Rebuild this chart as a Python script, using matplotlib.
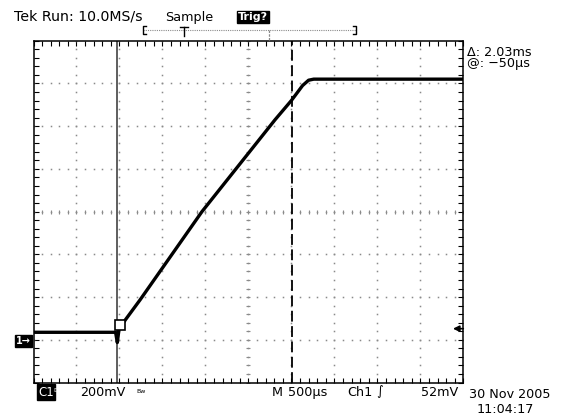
import matplotlib

matplotlib.use("Agg")
import matplotlib.pyplot as plt
import numpy as np

W, H, DPI = 564, 415, 100

# screen: 10 div x 500 us, 8 div x 200 mV, ground one div above bottom edge
T_LIM = (0.0, 5.0)    # ms
V_LIM = (-0.2, 1.4)   # V
T_DIV = 0.5
V_DIV = 0.2

# captured trace (ms, V)
trace_t = [0.0, 0.955, 0.975, 0.995, 1.07, 1.24, 1.96, 2.81, 3.0, 3.13, 3.2, 3.26, 5.0]
trace_v = [0.035, 0.035, -0.013, 0.05, 0.094, 0.187, 0.60, 1.03, 1.12, 1.19, 1.215, 1.22, 1.22]

cursor_t = [0.975, 3.005]
trig_level = 0.052

GRID = "#8a8a8a"
INK = "black"

fig = plt.figure(figsize=(W / DPI, H / DPI), dpi=DPI)
fig.patch.set_facecolor("white")


def fx(px):
    return px / W


def fy(py):
    return 1 - py / H


ax = fig.add_axes([fx(33.5), fy(382.5), (463.3 - 33.5) / W, (382.5 - 40.7) / H])
ax.set_xlim(*T_LIM)
ax.set_ylim(*V_LIM)
ax.set_xticks(np.arange(T_LIM[0], T_LIM[1] + 1e-9, T_DIV))
ax.set_yticks(np.arange(V_LIM[0], V_LIM[1] + 1e-9, V_DIV))
ax.set_xticks(np.arange(T_LIM[0], T_LIM[1] + 1e-9, T_DIV / 5), minor=True)
ax.set_yticks(np.arange(V_LIM[0], V_LIM[1] + 1e-9, V_DIV / 5), minor=True)
ax.tick_params(which="both", direction="in", length=3.5, width=0.8, color=INK,
               top=True, right=True, labelbottom=False, labelleft=False)
for s in ax.spines.values():
    s.set_linewidth(1.1)

# dotted graticule
t_mid = (T_LIM[0] + T_LIM[1]) / 2
v_mid = (V_LIM[0] + V_LIM[1]) / 2
fine_v = np.arange(V_LIM[0], V_LIM[1] + 1e-9, V_DIV / 5)
fine_t = np.arange(T_LIM[0], T_LIM[1] + 1e-9, T_DIV / 5)
for t in np.arange(T_LIM[0] + T_DIV, T_LIM[1] - 1e-9, T_DIV):
    ax.plot(np.full_like(fine_v, t), fine_v, ls="none", marker="s", ms=1.1, mew=0, color=GRID)
for v in np.arange(V_LIM[0] + V_DIV, V_LIM[1] - 1e-9, V_DIV):
    ax.plot(fine_t, np.full_like(fine_t, v), ls="none", marker="s", ms=1.1, mew=0, color=GRID)
# centre cross ticks
ax.plot(np.full_like(fine_v, t_mid), fine_v, ls="none", marker="_", ms=3.5, mew=0.8, color=GRID)
ax.plot(fine_t, np.full_like(fine_t, v_mid), ls="none", marker="|", ms=3.5, mew=0.8, color=GRID)

# cursors
ax.axvline(cursor_t[0], color="#333333", lw=1.1)
ax.axvline(cursor_t[1], color=INK, lw=1.3, dashes=(6, 2.5))

# trace
ax.plot(trace_t, trace_v, color=INK, lw=2.4, solid_joinstyle="round")

# cursor/trace marker box
ax.plot([cursor_t[0] + 0.035], [0.07], marker="s", ms=7, mfc="white", mec=INK, mew=1.2)

# trigger level arrow on right edge
ax.annotate("", xy=(T_LIM[1] - 0.12, trig_level), xytext=(T_LIM[1], trig_level),
            arrowprops=dict(arrowstyle="-|>", color=INK, lw=1.2, mutation_scale=9,
                            shrinkA=0, shrinkB=0))

# overlay for readouts
ov = fig.add_axes([0, 0, 1, 1])
ov.set_xlim(0, W)
ov.set_ylim(H, 0)
ov.axis("off")
ov.patch.set_visible(False)

FONT = dict(family="DejaVu Sans", fontsize=9.2, color=INK, va="center", ha="left")

ov.text(14, 17, "Tek Run: 10.0MS/s", family="DejaVu Sans", fontsize=10.2, color=INK,
        va="center", ha="left")
ov.text(165, 17, "Sample", **FONT)
ov.text(238, 17, "Trig?", fontweight="bold", family="DejaVu Sans", fontsize=8, color="white",
        va="center", ha="left", bbox=dict(boxstyle="square,pad=0.12", fc=INK, ec=INK))

# record-length bar
ov.plot([143, 356], [30, 30], color=GRID, lw=0.8, ls=(0, (1, 1)))
ov.plot([146, 143, 143, 146], [26, 26, 34, 34], color=INK, lw=1)
ov.plot([353, 356, 356, 353], [26, 26, 34, 34], color=INK, lw=1)
ov.plot([180, 188], [27, 27], color=INK, lw=1)
ov.plot([184, 184], [27, 36], color=INK, lw=1)
ov.plot([269, 269], [30, 40], color=GRID, lw=0.9, ls=(0, (2, 1)))

delta = cursor_t[1] - cursor_t[0]
ov.text(467, 52, f"\u0394: {delta:.2f}ms", **FONT)
ov.text(467, 64, "@: \u221250\u00b5s", **FONT)

# channel ground marker
ov.text(16, 341, "1\u2192", family="DejaVu Sans", fontsize=7, color="white", fontweight="bold",
        va="center", ha="left", bbox=dict(boxstyle="square,pad=0.12", fc=INK, ec=INK))

# bottom readout
ov.text(38, 392, "C1", family="DejaVu Sans", fontsize=8.5, color="white",
        va="center", ha="left", bbox=dict(boxstyle="square,pad=0.12", fc=INK, ec=INK))
ov.text(53, 390, "Ds", family="DejaVu Sans", fontsize=4.5, color="white", va="center", ha="left")
ov.text(80, 392, "200mV", **FONT)
ov.text(136, 391, "Bw", family="DejaVu Sans", fontsize=4.5, color=INK, va="center", ha="left")
ov.text(272, 392, "M", **FONT)
ov.text(288, 392, "500\u00b5s", **FONT)
ov.text(347, 392, "Ch1", **FONT)
ov.text(376, 392, "\u222b", **FONT)
ov.text(421, 392, "52mV", **FONT)
ov.text(469, 394, "30 Nov 2005", **FONT)
ov.text(477, 409, "11:04:17", **FONT)

fig.savefig("out.png", dpi=DPI)
